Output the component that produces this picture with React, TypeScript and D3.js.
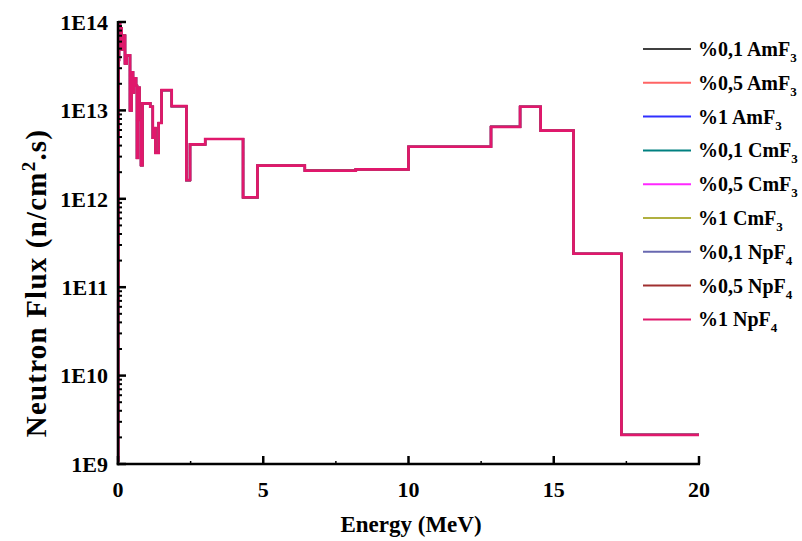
import React from 'react';
import * as d3 from 'd3';

// Energy group boundaries (MeV) and flux per group (n/cm^2.s)
const energyEdges = [0, 0.007, 0.014, 0.021, 0.034, 0.069, 0.096, 0.124, 0.148, 0.241, 0.3, 0.413, 0.465, 0.516, 0.551, 0.62, 0.654, 0.688, 0.74, 0.792, 0.843, 1.108, 1.2, 1.256, 1.29, 1.4, 1.5, 1.85, 2.354, 2.479, 3.0, 4.304, 4.8, 6.434, 8.187, 10.0, 12.84, 13.84, 14.55, 15.68, 17.33, 20.0];
const fluxValues = [1.1e9, 7e10, 3.5e12, 3.7e13, 9.7e13, 5.5e13, 8.5e13, 4.9e13, 7.0e13, 3.4e13, 4.2e13, 1.0e13, 2.7e13, 1.6e13, 2.3e13, 1.9e13, 2.9e12, 1.8e13, 7.8e12, 2.4e12, 1.2e13, 1.1e13, 4.9e12, 6.3e12, 3.3e12, 7.2e12, 1.7e13, 1.12e13, 1.63e12, 4.13e12, 4.75e12, 1.04e12, 2.37e12, 2.08e12, 2.15e12, 3.88e12, 6.5e12, 1.1e13, 5.9e12, 2.39e11, 2.13e9];

const seriesLabels = ['%0,1 AmF', '%0,5 AmF', '%1 AmF', '%0,1 CmF', '%0,5 CmF', '%1 CmF', '%0,1 NpF', '%0,5 NpF', '%1 NpF'];
const seriesSubs = ['3', '3', '3', '3', '3', '3', '4', '4', '4'];
const seriesColors = ['#404040', '#ff6464', '#3030ff', '#008080', '#ff28ff', '#b0b040', '#6868b0', '#a03030', '#e0186c'];

const xTicks = [0, 5, 10, 15, 20];
const xMinorTicks = [2.5, 7.5, 12.5, 17.5];
const yTicks = [1e9, 1e10, 1e11, 1e12, 1e13, 1e14];
const yTickLabels = ['1E9', '1E10', '1E11', '1E12', '1E13', '1E14'];

const FONT = '"Liberation Serif", "Times New Roman", serif';

export default function App() {
  const x = d3.scaleLinear().domain([0, 20]).range([118, 699]);
  const y = d3.scaleLog().domain([1e9, 1e14]).range([464, 22]);

  const pts: [number, number][] = energyEdges.map((e, i) => [e, fluxValues[Math.min(i, fluxValues.length - 1)]]);
  const line = d3.line<[number, number]>().x(d => x(d[0])).y(d => y(d[1])).curve(d3.curveStepAfter);
  const path = line(pts) || '';

  const yMinor: number[] = [];
  for (let d = 9; d < 14; d++) for (let k = 2; k <= 9; k++) yMinor.push(k * Math.pow(10, d));

  const x0 = x(0), yb = y(1e9);

  return (
    <svg width={802} height={541} style={{ position: 'absolute', left: 0, top: 0, background: '#fff' }} fontFamily={FONT} fontWeight="bold">
      <rect x={0} y={0} width={802} height={541} fill="#fff" />
      {/* series */}
      {seriesColors.map((c, i) => (
        <path key={i} d={path} fill="none" stroke={c} strokeWidth={i === seriesColors.length - 1 ? 2.6 : 2.2} strokeLinejoin="miter" />
      ))}
      {/* axes */}
      <line x1={x0} y1={y(1e14) - 1} x2={x0} y2={yb + 1.25} stroke="#000" strokeWidth={2.5} />
      <line x1={x0 - 1.25} y1={yb} x2={x(20) + 1} y2={yb} stroke="#000" strokeWidth={2.5} />
      {yTicks.map((t, i) => (
        <line key={'ym' + i} x1={x0} x2={x0 + 8} y1={y(t)} y2={y(t)} stroke="#000" strokeWidth={2.5} />
      ))}
      {yMinor.map((t, i) => (
        <line key={'yn' + i} x1={x0} x2={x0 + 4} y1={y(t)} y2={y(t)} stroke="#000" strokeWidth={2} />
      ))}
      {xTicks.map((t, i) => (
        <line key={'xm' + i} x1={x(t)} x2={x(t)} y1={yb} y2={yb - 8} stroke="#000" strokeWidth={2.5} />
      ))}
      {xMinorTicks.map((t, i) => (
        <line key={'xn' + i} x1={x(t)} x2={x(t)} y1={yb} y2={yb - 3} stroke="#000" strokeWidth={1.5} />
      ))}
      {/* tick labels */}
      {yTicks.map((t, i) => (
        <text key={'yl' + i} x={x0 - 10} y={y(t)} dy="0.35em" textAnchor="end" fontSize={22}>{yTickLabels[i]}</text>
      ))}
      {xTicks.map((t, i) => (
        <text key={'xl' + i} x={x(t)} y={497} textAnchor="middle" fontSize={22}>{t}</text>
      ))}
      {/* axis titles */}
      <text x={411} y={532} textAnchor="middle" fontSize={23}>Energy (MeV)</text>
      <text transform="translate(46,283) rotate(-90)" textAnchor="middle" fontSize={29} letterSpacing={1.2}>
        Neutron Flux (n/cm<tspan dy={-11} fontSize={19}>2</tspan><tspan dy={11}>.s)</tspan>
      </text>
      {/* legend */}
      {seriesLabels.map((s, i) => {
        const ly = 49 + i * 33.8;
        return (
          <g key={'lg' + i}>
            <line x1={643} x2={691} y1={ly} y2={ly} stroke={seriesColors[i]} strokeWidth={2} />
            <text x={698} y={ly + 7} fontSize={20}>
              {s}<tspan dy={6} fontSize={13}>{seriesSubs[i]}</tspan>
            </text>
          </g>
        );
      })}
    </svg>
  );
}
